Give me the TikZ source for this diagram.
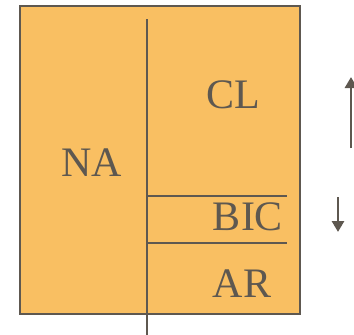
\documentclass[tikz,border=0pt]{standalone}
\usepackage{fontspec}
\setmainfont{Liberation Serif}
\usetikzlibrary{arrows.meta}
\definecolor{cellfill}{RGB}{249,191,98}
\definecolor{ink}{RGB}{94,88,80}
\begin{document}
\begin{tikzpicture}[x=1pt,y=-1pt,
  lbl/.style={inner sep=0pt,text=ink,font=\fontsize{42}{44}\selectfont},
  wall/.style={draw=ink,line width=1.5pt},
  flow/.style={draw=ink,line width=2.8pt,-{Triangle[width=12pt,length=11pt]}}]
  \useasboundingbox (0,0) rectangle (354,335);
  % cell outline
  \draw[fill=cellfill,draw=ink,line width=2pt] (20,6) rectangle (300,314);
  % membrane divisions
  \coordinate (vtop) at (147,19);
  \coordinate (vbot) at (147,335);
  \draw[wall] (vtop) -- (vbot);
  \coordinate (h1l) at (147,196);
  \coordinate (h1r) at (287,196);
  \coordinate (h2l) at (147,243);
  \coordinate (h2r) at (287,243);
  \draw[wall] (h1l) -- (h1r);
  \draw[wall] (h2l) -- (h2r);
  % compartment labels
  \node[lbl] (na) at (92,162.5) {NA};
  \node[lbl] (cl) at (233.5,94.5) {CL};
  \node[lbl] (bic) at (248,217) {BIC};
  \node[lbl] (ar) at (242,283.5) {AR};
  % direction arrows
  \coordinate (upfrom) at (351,148);
  \coordinate (upto) at (351,77);
  \coordinate (dnfrom) at (338,197);
  \coordinate (dnto) at (338,232);
  \draw[flow] (upfrom) -- (upto);
  \draw[flow] (dnfrom) -- (dnto);
\end{tikzpicture}
\end{document}
